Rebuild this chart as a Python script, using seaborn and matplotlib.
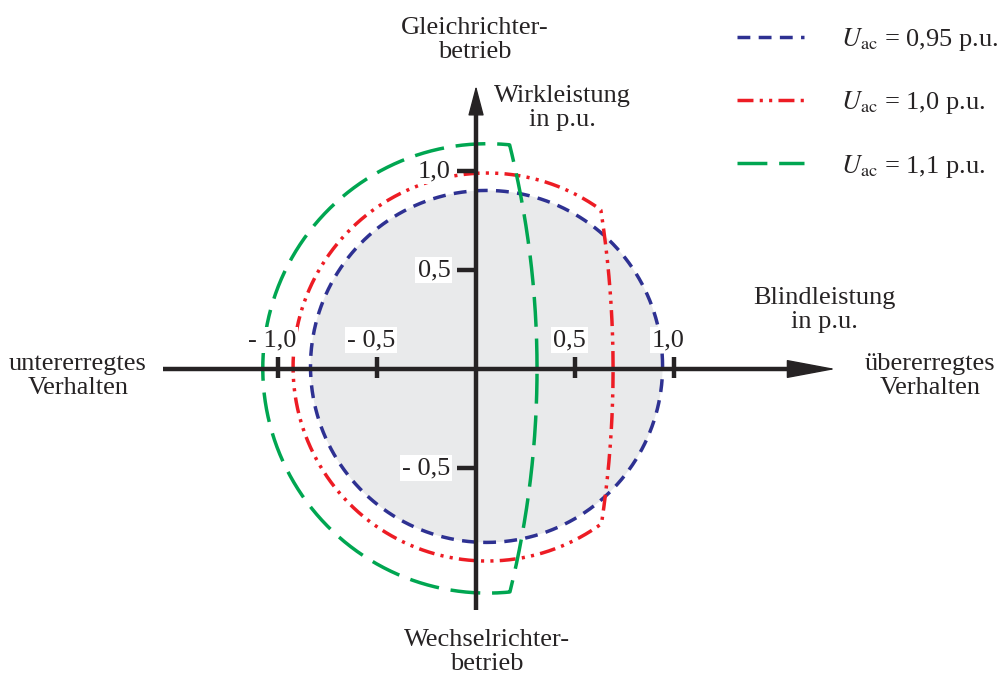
import numpy as np
import pandas as pd
import matplotlib
matplotlib.use("Agg")
import matplotlib.pyplot as plt
from matplotlib.patches import FancyArrowPatch
import seaborn as sns

# Operating limits of the converter for three AC voltages (P-Q plane, p.u.)
curve_labels = [
    r"$U_{\mathrm{ac}}$ = 0,95 p.u.",
    r"$U_{\mathrm{ac}}$ = 1,0 p.u.",
    r"$U_{\mathrm{ac}}$ = 1,1 p.u.",
]
curve_colors = ["#2e3192", "#ed1c24", "#00a651"]
# current-limit circles
circle_centre_q = [0.053, 0.056, 0.058]
circle_centre_p = [0.013, 0.010, 0.003]
circle_radius = [0.889, 0.980, 1.135]
# voltage limit: reactive power reached at P = 0 and radius of the limiting arc
q_limit_at_p0 = [np.nan, 0.692, 0.308]
voltage_arc_radius = [np.nan, 5.25, 4.70]

x_ticks = [-1.0, -0.5, 0.5, 1.0]
x_tick_labels = ["- 1,0", "- 0,5", "0,5", "1,0"]
y_ticks = [1.0, 0.5, -0.5]
y_tick_labels = ["1,0", "0,5", "- 0,5"]

sns.set_theme(style="white")
plt.rcParams["font.family"] = ["Liberation Serif", "DejaVu Serif"]
plt.rcParams["mathtext.fontset"] = "stix"
plt.rcParams["lines.linewidth"] = 2.5

ink = "#262324"
fs = 19


def limit_boundary(cq, cp, r, q0, arc_r):
    t = np.linspace(0, 2 * np.pi, 721)
    q = cq + r * np.cos(t)
    p = cp + r * np.sin(t)
    if np.isfinite(q0):
        arc_centre = q0 - arc_r
        q_arc = arc_centre + np.sqrt(np.clip(arc_r ** 2 - p ** 2, 0, None))
        q = np.minimum(q, q_arc)
    return q, p


frames = []
for lab, cq, cp, r, q0, ar in zip(curve_labels, circle_centre_q, circle_centre_p,
                                  circle_radius, q_limit_at_p0, voltage_arc_radius):
    q, p = limit_boundary(cq, cp, r, q0, ar)
    frames.append(pd.DataFrame({"Q": q, "P": p, "curve": lab}))
df = pd.concat(frames, ignore_index=True)

fig = plt.figure(figsize=(10, 6.8), dpi=100)
ax = fig.add_axes([0, 0, 1, 1])
ax.set_xlim(-2.404, 2.646)
ax.set_ylim(-1.571, 1.864)
ax.axis("off")

# shaded operating area of the lowest voltage
blue = df[df["curve"] == curve_labels[0]]
ax.fill(blue["Q"], blue["P"], color="#e9eaeb", lw=0, zorder=0)

sns.lineplot(
    data=df, x="Q", y="P", hue="curve", style="curve",
    hue_order=curve_labels, style_order=curve_labels,
    palette=dict(zip(curve_labels, curve_colors)),
    dashes={
        curve_labels[0]: (3.7, 2.4),
        curve_labels[1]: (4.6, 1.8, 0.9, 1.8, 0.9, 1.8),
        curve_labels[2]: (8.6, 3.4),
    },
    sort=False, estimator=None, linewidth=2.5, ax=ax, zorder=2,
)

handles, labels = ax.get_legend_handles_labels()
if ax.get_legend() is not None:
    ax.get_legend().remove()
leg = ax.legend(
    handles, labels, loc="upper left", bbox_to_anchor=(0.737, 0.962),
    frameon=False, borderpad=0, borderaxespad=0, handlelength=2.55,
    handletextpad=1.4, labelspacing=1.38, prop={"size": fs},
)
for t in leg.get_texts():
    t.set_color(ink)
for h in leg.get_lines():
    h.set_linewidth(2.5)

# axes with arrowheads
ax.plot([-1.58, 1.64], [0, 0], color=ink, lw=3.2, solid_capstyle="butt", zorder=4)
ax.plot([0, 0], [-1.217, 1.32], color=ink, lw=3.2, solid_capstyle="butt", zorder=4)
ax.add_patch(FancyArrowPatch((1.55, 0), (1.83, 0), arrowstyle="-|>,head_length=32,head_width=6",
                             mutation_scale=1, color=ink, lw=1, zorder=4))
ax.add_patch(FancyArrowPatch((0, 1.30), (0, 1.445), arrowstyle="-|>,head_length=19,head_width=5",
                             mutation_scale=1, color=ink, lw=1, zorder=4))

# tick marks
ax.vlines(x_ticks, -0.045, 0.06, color=ink, lw=3.2, zorder=4)
ax.hlines(y_ticks, -0.095, 0, color=ink, lw=3.2, zorder=4)

box = dict(facecolor="white", edgecolor="none", pad=1.5)
for xt, lab in zip(x_ticks, x_tick_labels):
    ax.text(xt - 0.03, 0.145, lab, ha="center", va="center", fontsize=fs, color=ink,
            bbox=box, zorder=5)
for yt, lab in zip(y_ticks, y_tick_labels):
    ax.text(-0.13, yt, lab, ha="right", va="center", fontsize=fs, color=ink,
            bbox=box, zorder=5)

annot = [
    (-0.005, 1.66, "Gleichrichter-\nbetrieb"),
    (0.434, 1.318, "Wirkleistung\nin p.u."),
    (1.758, 0.298, "Blindleistung\nin p.u."),
    (2.293, -0.035, "übererregtes\nVerhalten"),
    (-2.01, -0.035, "untererregtes\nVerhalten"),
    (0.056, -1.43, "Wechselrichter-\nbetrieb"),
]
for x, y, s in annot:
    ax.text(x, y, s, ha="center", va="center", fontsize=fs, color=ink,
            linespacing=1.12, zorder=5)

fig.savefig("out.png", dpi=100, facecolor="white")
